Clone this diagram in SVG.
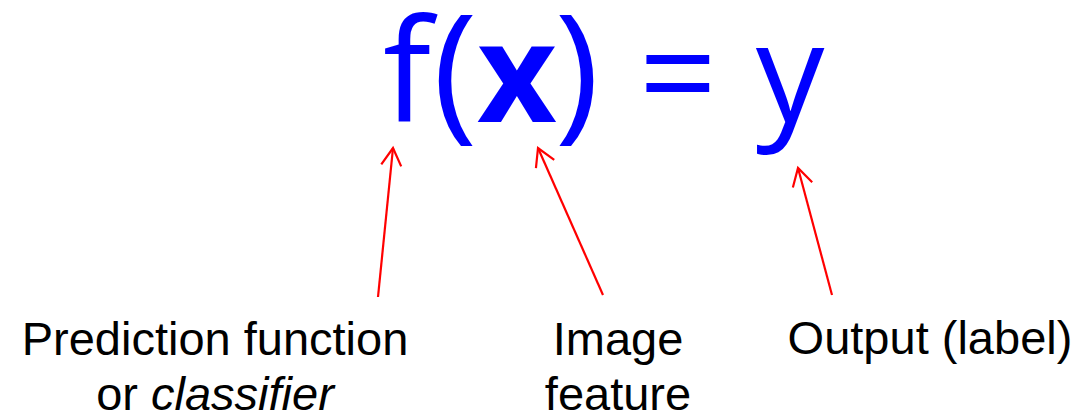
<svg xmlns="http://www.w3.org/2000/svg" width="1083" height="418" viewBox="0 0 1083 418">
<style>
.eq{font-family:"Open Sans","Noto Sans",sans-serif;fill:#0000ff;text-anchor:middle;font-weight:500}
.eq.b{font-weight:700}
.lbl{font-family:"Liberation Sans",Arial,sans-serif;font-size:47px;fill:#000;text-anchor:middle}
.arr{stroke:#ff0000;stroke-width:2.2;fill:none;marker-end:url(#ah)}
</style>
<defs>
<marker id="ah" markerUnits="userSpaceOnUse" viewBox="-22 -12 26 24" refX="0" refY="0" markerWidth="26" markerHeight="24" orient="auto">
<path d="M-17.5,-10 L0,0 L-17.5,10" stroke="#ff0000" stroke-width="2.2" fill="none"/>
</marker>
</defs>
<rect width="1083" height="418" fill="#fff"/>
<g id="equation">
<text class="eq" x="407" y="122" font-size="143">f</text>
<text class="eq" x="455" y="122" font-size="151">(</text>
<text class="eq b" x="517" y="122" font-size="138">x</text>
<text class="eq" x="577" y="122" font-size="151">)</text>
<text class="eq" x="678" y="122" font-size="137">=</text>
<text class="eq" x="790" y="122" font-size="137">y</text>
</g>
<g id="label-classifier">
<text class="lbl" x="215" y="355">Prediction function</text>
<text class="lbl" x="215" y="410">or <tspan font-style="italic">classifier</tspan></text>
</g>
<g id="label-feature">
<text class="lbl" x="618" y="355">Image</text>
<text class="lbl" x="618" y="410">feature</text>
</g>
<g id="label-output">
<text class="lbl" x="930" y="354">Output (label)</text>
</g>
<g id="connectors">
<line class="arr" x1="378" y1="297" x2="393" y2="148"/>
<line class="arr" x1="603" y1="295" x2="538" y2="148"/>
<line class="arr" x1="832" y1="295" x2="798" y2="168"/>
</g>
</svg>
